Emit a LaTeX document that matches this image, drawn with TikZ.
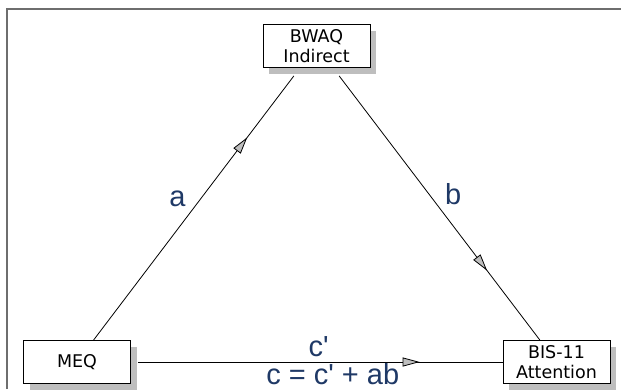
\documentclass[tikz,border=0pt]{standalone}
\usepackage{fontspec}
\setmainfont{DejaVu Sans}
\newfontfamily\labfont{Liberation Sans}
\usetikzlibrary{arrows.meta,decorations.markings,shadows}
\definecolor{lBlue}{RGB}{31,57,102}
\definecolor{shGray}{RGB}{190,190,190}
\definecolor{frGray}{RGB}{110,110,110}
\newcommand{\apos}{\textquotesingle}

\begin{document}
\begin{tikzpicture}[x=1pt,y=-1pt,
  var/.style={draw=black,fill=white,line width=0.9pt,minimum width=107pt,minimum height=43pt,
              inner sep=0pt,align=center,font=\fontsize{17.5}{20}\selectfont,
              drop shadow={shadow xshift=6pt,shadow yshift=-6pt,fill=shGray,opacity=1}},
  eff/.style={line width=0.8pt,postaction={decorate},
              decoration={markings,mark=at position #1 with {\arrow{Triangle[length=17pt,width=9pt,fill=shGray]}}}},
  lab/.style={text=lBlue,font=\labfont\fontsize{29}{32}\selectfont,inner sep=0pt}]
\useasboundingbox (0,0) rectangle (621,389);
% ---- frame
\draw[frGray,line width=1.6pt] (7,389) -- (7,9) -- (621,9);
% ---- variables
\node[var] (bwaq) at (316.5,46)  {BWAQ\\Indirect};
\node[var] (meq)  at (77,362)    {MEQ};
\node[var] (bis)  at (556.5,362) {BIS-11\\Attention};
% ---- paths
\draw[eff=0.745,shorten >=10pt] (meq) -- node[lab,pos=0.52,left=15pt]{a} (bwaq);
\draw[eff=0.745,shorten <=10pt] (bwaq) -- node[lab,pos=0.463,right=16pt]{b} (bis);
\draw[eff=0.777,shorten <=7pt] (meq) -- node[lab,pos=0.505,above=5pt]{c\apos}
  node[lab,pos=0.543,below=1pt]{c = c\apos{} + ab} (bis);
\end{tikzpicture}
\end{document}
